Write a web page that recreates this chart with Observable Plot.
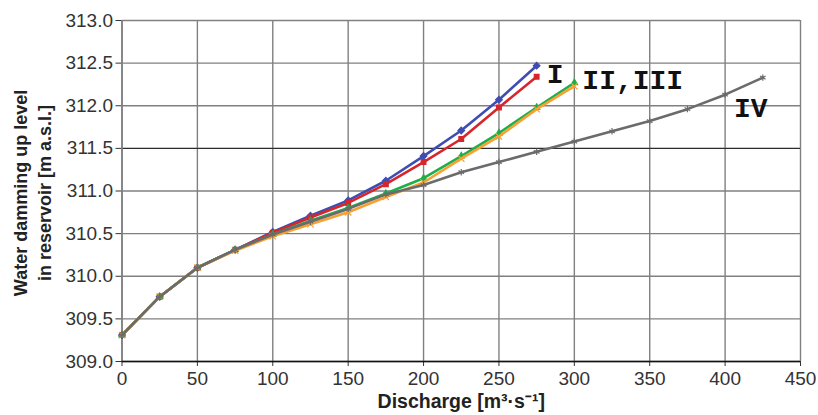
<!DOCTYPE html>
<html>
<head>
<meta charset="utf-8">
<script src="https://cdn.jsdelivr.net/npm/d3@7"></script>
<script src="https://cdn.jsdelivr.net/npm/@observablehq/plot@0.6"></script>
<style>
  html, body { margin: 0; padding: 0; background: #fff; }
</style>
</head>
<body>
<div id="chart"></div>
<script>
// Discharge values [m3/s]
const discharge = [0, 25, 50, 75, 100, 125, 150, 175, 200, 225, 250, 275, 300, 325, 350, 375, 400, 425];

// Water level series [m a.s.l.]
const levelBlue   = [309.31, 309.76, 310.10, 310.31, 310.52, 310.71, 310.89, 311.12, 311.41, 311.71, 312.07, 312.47];
const levelRed    = [309.31, 309.76, 310.10, 310.31, 310.51, 310.69, 310.86, 311.08, 311.34, 311.61, 311.98, 312.34];
const levelGreen  = [309.31, 309.76, 310.10, 310.31, 310.49, 310.65, 310.80, 310.97, 311.15, 311.41, 311.68, 311.98, 312.27];
const levelOrange = [309.31, 309.76, 310.10, 310.30, 310.47, 310.61, 310.75, 310.93, 311.10, 311.38, 311.64, 311.96, 312.23];
const levelGray   = [309.31, 309.76, 310.10, 310.31, 310.49, 310.64, 310.79, 310.96, 311.07, 311.22, 311.34, 311.46, 311.58, 311.70, 311.82, 311.96, 312.13, 312.33];

const xTicks = [0, 50, 100, 150, 200, 250, 300, 350, 400, 450];
const yTicks = [309, 309.5, 310, 310.5, 311, 311.5, 312, 312.5, 313];
const darkLevels = [311.5];

const seriesLabels = ["I", "II,III", "IV"];

const series = [
  {name: "blue",   color: "#3f4db3", symbol: "diamond2", values: levelBlue},
  {name: "red",    color: "#d7262b", symbol: "square2",  values: levelRed},
  {name: "green",  color: "#1fae4a", symbol: "triangle2", values: levelGreen},
  {name: "orange", color: "#f7a133", symbol: "times",    values: levelOrange},
  {name: "gray",   color: "#6b6b6b", symbol: "asterisk", values: levelGray}
];

const rows = series.map(s => s.values.map((v, i) => ({x: discharge[i], y: v, s: s.name})));

const lineMarks = [];
series.forEach((s, k) => {
  lineMarks.push(Plot.line(rows[k], {x: "x", y: "y", stroke: s.color, strokeWidth: 2.6}));
  lineMarks.push(Plot.dot(rows[k], {x: "x", y: "y", stroke: s.color, fill: s.color, symbol: s.symbol, r: 3, strokeWidth: 1.2}));
});

const last = arr => arr[arr.length - 1];
const labelFont = {fontFamily: "Liberation Mono, Courier New, monospace", fontWeight: "bold", fontSize: 28, fill: "#111"};

const chart = Plot.plot({
  width: 818,
  height: 415,
  marginLeft: 121.5,
  marginRight: 18,
  marginTop: 20,
  marginBottom: 54,
  style: {fontFamily: "Liberation Sans, Arial, sans-serif", fontSize: "19px", color: "#333", background: "#fff"},
  x: {domain: [0, 450]},
  y: {domain: [309, 313]},
  marks: [
    Plot.gridX(xTicks, {stroke: "#808080", strokeOpacity: 1, strokeWidth: 1.4}),
    Plot.gridY(yTicks, {stroke: "#808080", strokeOpacity: 1, strokeWidth: 1.4}),
    Plot.ruleY(darkLevels, {stroke: "#222", strokeWidth: 1}),
    Plot.axisX(xTicks, {tickSize: 5, tickPadding: 5, label: null, stroke: "#333", fill: "#333"}),
    Plot.axisY(yTicks, {tickSize: 6, tickPadding: 3, tickFormat: d3.format(".1f"), label: null, stroke: "#333", fill: "#333"}),
    Plot.ruleX([0], {stroke: "#808080", strokeWidth: 1.6}),
    Plot.ruleY([309], {stroke: "#111", strokeWidth: 1.4}),
    ...lineMarks,
    Plot.text([seriesLabels[0]], {x: () => last(discharge.slice(0, levelRed.length)), y: () => last(levelRed), text: d => d, textAnchor: "start", dx: 10, dy: -3, ...labelFont}),
    Plot.text([seriesLabels[1]], {x: () => last(discharge.slice(0, levelGreen.length)), y: () => last(levelGreen), text: d => d, textAnchor: "start", dx: 8, dy: -3, ...labelFont}),
    Plot.text([seriesLabels[2]], {x: () => last(discharge.slice(0, levelGray.length)), y: () => last(levelGray), text: d => d, textAnchor: "middle", dx: -12, dy: 30, ...labelFont}),
    Plot.text(["Water damming up level\nin reservoir [m a.s.l.]"], {frameAnchor: "left", textAnchor: "middle", rotate: -90, dx: -91, dy: 2, text: d => d, fontWeight: "bold", fontSize: 18, lineHeight: 1.35, fill: "#222"}),
    Plot.text(["Discharge [m³·s⁻¹]"], {frameAnchor: "bottom", dy: 46, text: d => d, fontWeight: "bold", fontSize: 19.5, fill: "#222"})
  ]
});

document.getElementById("chart").appendChild(chart);
</script>
</body>
</html>
